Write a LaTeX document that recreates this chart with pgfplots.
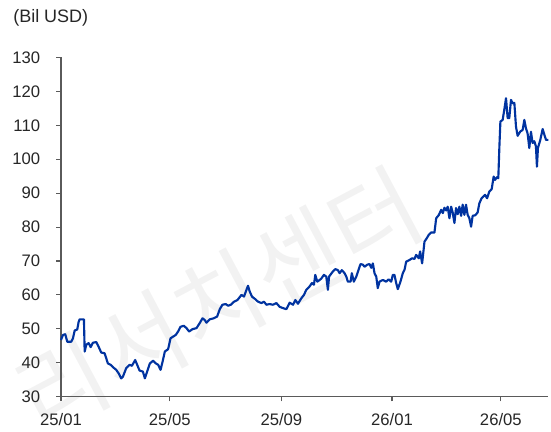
\documentclass[border=0pt]{standalone}
\usepackage{pgfplots}
\pgfplotsset{compat=1.18}
\usepackage{fontspec}
\setmainfont{Liberation Sans}
\newfontfamily\kr{Noto Sans CJK KR}
\definecolor{lineblue}{RGB}{0,51,160}
\definecolor{axgray}{RGB}{90,90,90}
\begin{document}
\begin{tikzpicture}
\useasboundingbox (-45.75pt,-26.5pt) rectangle (367.5pt,297.5pt);
\node[rotate=28, text=black!5, font=\kr\fontsize{72}{72}\selectfont] at (118pt,72pt) {리서치센터};
\begin{axis}[
  scale only axis,
  width=365.25pt, height=254.4pt,
  xmin=0, xmax=537, ymin=30, ymax=130,
  axis x line=bottom, axis y line=left,
  axis line style={axgray, line width=0.8pt, -},
  xtick={0,120,243,365,485},
  xticklabels={25/01,25/05,25/09,26/01,26/05},
  ytick={30,40,...,130},
  tick align=outside,
  major tick length=3.5pt,
  tick style={axgray, line width=0.8pt},
  /pgf/number format/assume math mode=true,
  tick label style={font=\fontsize{12.5}{14}\selectfont, text=black!85},
  yticklabel style={anchor=east, inner sep=0pt, xshift=-12pt},
  xticklabel style={anchor=north, inner sep=0pt, yshift=-8.5pt},
  clip=false,
]
\addplot[lineblue, line width=1.6pt, line join=round] coordinates {
(0,46.7)(2.2,48.2)(4.7,48.4)(6.9,46.2)(11.3,46.2)(13.2,47.2)(15.1,49.5)(17.9,49.8)(19.5,52.1)(20.6,52.8)(24.2,52.8)(25.3,52.8)(26.1,43.3)(27.9,45.3)(30.5,45.8)(32.7,44.6)(35.2,45.9)(38.9,46.1)(41.5,44.7)(44.4,43.0)(48.1,42.8)(49.9,41.3)(51.7,39.8)(54.7,39.4)(57.3,38.7)(60.9,37.9)(63.5,36.9)(66.4,35.4)(68.3,35.9)(71.9,38.4)(75.6,39.4)(78.2,39.1)(81.8,40.8)(84.0,39.4)(86.6,37.7)(90.3,37.4)(92.5,35.4)(95.0,37.4)(98.0,39.8)(101.6,40.6)(104.6,39.8)(107.1,39.4)(109.8,37.9)(112.0,40.3)(114.5,43.3)(118.1,44.0)(120.8,47.2)(123.6,47.7)(126.6,48.2)(129.1,49.2)(131.8,50.6)(135.4,50.9)(138.4,50.2)(141.3,49.2)(145.0,49.9)(149.4,50.2)(153.0,51.7)(156.0,53.1)(158.5,52.6)(160.4,51.8)(164.0,52.8)(168.4,53.1)(172.1,53.6)(175.1,55.8)(178.0,57.1)(181.7,57.3)(184.2,56.8)(187.2,57.1)(190.8,58.0)(194.6,58.5)(199.0,60.0)(201.8,59.5)(204.5,61.5)(206.2,62.7)(208.1,61.0)(210.6,59.5)(214.4,58.7)(217.2,58.0)(221.0,57.6)(223.8,58.0)(226.5,57.1)(230.1,57.3)(233.7,57.1)(237.5,57.6)(241.1,56.5)(244.8,56.1)(248.5,55.8)(252.1,57.7)(255.8,57.1)(258.4,58.5)(261.3,57.4)(265.0,59.0)(267.9,60.0)(270.5,61.5)(274.1,62.5)(276.7,63.5)(278.9,63.0)(280.4,65.9)(282.6,63.9)(285.2,64.4)(287.0,64.8)(289.9,65.9)(292.5,65.4)(294.3,61.5)(295.6,65.4)(299.8,66.9)(302.5,67.6)(305.3,67.3)(307.2,66.4)(309.7,67.3)(312.7,66.4)(314.6,65.4)(316.3,63.9)(319.3,63.9)(320.7,66.4)(322.9,63.9)(325.6,65.4)(328.1,67.4)(330.3,69.1)(332.9,68.9)(334.7,68.3)(337.7,68.9)(340.2,69.1)(342.1,68.0)(343.9,69.3)(345.7,66.4)(347.6,65.4)(349.3,62.0)(351.2,63.9)(354.9,64.4)(358.6,63.9)(361.1,64.6)(364.1,63.9)(365.9,65.9)(367.7,65.9)(369.6,63.5)(371.4,61.7)(374.3,63.9)(376.9,66.4)(378.8,67.4)(380.6,69.8)(384.3,70.3)(387.2,70.8)(389.8,70.6)(391.6,71.8)(394.5,70.8)(396.0,72.8)(398.2,69.3)(400.8,75.7)(403.3,76.7)(405.5,77.7)(408.1,78.4)(411.8,78.4)(413.7,82.6)(416.5,83.5)(419.2,85.1)(421.0,84.1)(422.8,85.7)(424.7,84.9)(426.4,86.0)(428.3,82.6)(430.2,86.0)(431.9,84.3)(433.8,81.2)(435.6,85.6)(437.4,83.8)(439.3,86.0)(441.2,83.3)(442.9,86.6)(444.8,83.6)(446.6,86.6)(448.4,83.6)(450.3,82.6)(452.2,80.1)(453.9,83.3)(456.9,83.5)(459.4,84.3)(461.3,87.0)(463.8,88.5)(467.6,89.5)(469.8,88.5)(472.3,90.5)(474.9,91.2)(477.1,94.9)(478.6,93.9)(480.8,94.7)(482.2,94.4)(483.4,103.7)(484.5,111.1)(487.0,111.6)(488.8,114.6)(490.7,118.0)(492.5,112.1)(494.3,112.1)(496.2,117.5)(498.0,116.5)(499.9,116.6)(501.7,109.6)(503.5,106.9)(506.5,108.2)(509.0,108.6)(510.9,111.6)(512.7,109.1)(514.5,107.6)(516.4,103.3)(518.2,108.1)(520.0,104.8)(521.9,105.3)(523.7,103.8)(524.8,97.8)(525.9,103.3)(528.5,105.7)(531.1,108.9)(532.9,107.3)(534.8,105.7)(537.3,105.7)
};
\end{axis}
\node[anchor=west, inner sep=0pt, font=\fontsize{13.5}{15}\selectfont, text=black!85] at (-36pt,284pt) {(Bil USD)};
\end{tikzpicture}
\end{document}
